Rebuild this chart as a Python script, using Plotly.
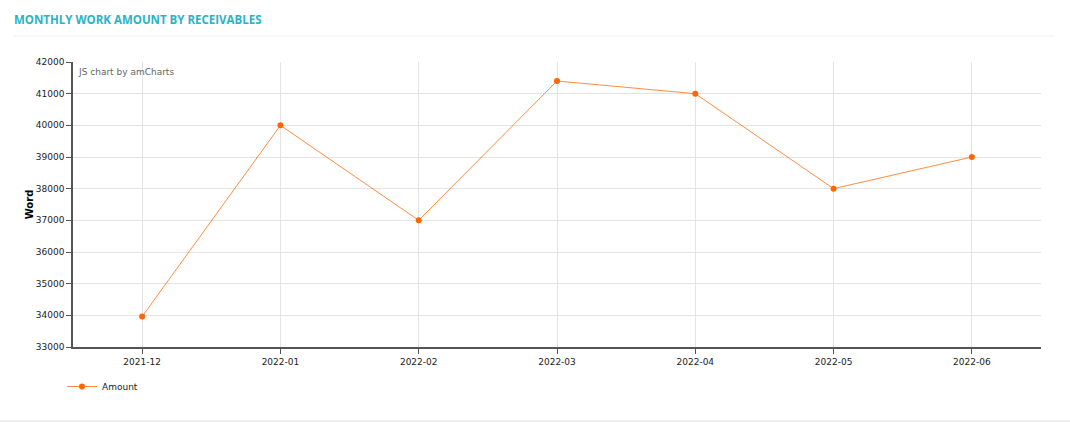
import plotly.graph_objects as go

months = ["2021-12", "2022-01", "2022-02", "2022-03", "2022-04", "2022-05", "2022-06"]
amount = [33960, 40000, 37000, 41400, 41000, 38000, 39000]
y_ticks = [33000, 34000, 35000, 36000, 37000, 38000, 39000, 40000, 41000, 42000]

W, H = 1070, 423
L, R, T, B = 73, 1041, 62, 347


def px_x(x):
    return (x - L) / (R - L)


def px_y(y):
    return (B - y) / (B - T)


fig = go.Figure()
fig.add_trace(go.Scatter(
    x=months, y=amount, name="Amount", mode="lines+markers",
    line=dict(color="rgba(255,102,0,0.75)", width=1),
    marker=dict(color="#ff6600", size=6),
))

fig.update_layout(
    width=W, height=H,
    margin=dict(l=L, r=W - R, t=T, b=H - B),
    paper_bgcolor="white", plot_bgcolor="white",
    font=dict(family="DejaVu Sans", size=9, color="#222"),
    showlegend=True,
    legend=dict(x=px_x(62), y=px_y(372), xanchor="left", yanchor="top",
                orientation="h", font=dict(size=9, color="#222")),
    xaxis=dict(type="category", range=[-0.5, 6.5], showgrid=True, gridcolor="#e3e3e3",
               showline=True, linecolor="#555", linewidth=1.5, ticks="outside",
               ticklen=5, tickcolor="#555", zeroline=False),
    yaxis=dict(range=[33000, 42000], tickvals=y_ticks, tickformat="d",
               showgrid=True, gridcolor="#e3e3e3",
               showline=True, linecolor="#555", linewidth=1.5, ticks="outside",
               ticklen=5, tickcolor="#555", zeroline=False,
               title=dict(text="<b>Word</b>", font=dict(size=10, color="#000"), standoff=0)),
    shapes=[
        dict(type="line", xref="paper", yref="paper",
             x0=px_x(13), x1=px_x(1055), y0=px_y(36), y1=px_y(36),
             line=dict(color="#eeeeee", width=1)),
        dict(type="line", xref="paper", yref="paper",
             x0=px_x(0), x1=px_x(W), y0=px_y(421), y1=px_y(421),
             line=dict(color="#eeeeee", width=2)),
    ],
    annotations=[
        dict(text="<b>MONTHLY WORK AMOUNT BY RECEIVABLES</b>", xref="paper", yref="paper",
             x=px_x(12), y=px_y(20), xanchor="left", yanchor="middle", showarrow=False,
             font=dict(family="Open Sans", size=11.5, color="#2ab3c6")),
        dict(text="JS chart by amCharts", xref="paper", yref="paper",
             x=px_x(76), y=px_y(72), xanchor="left", yanchor="middle", showarrow=False,
             font=dict(family="DejaVu Sans", size=9, color="#666")),
    ],
)

fig.write_html("out.html", config={"displayModeBar": False},
               post_script="document.body.style.margin='0';")
